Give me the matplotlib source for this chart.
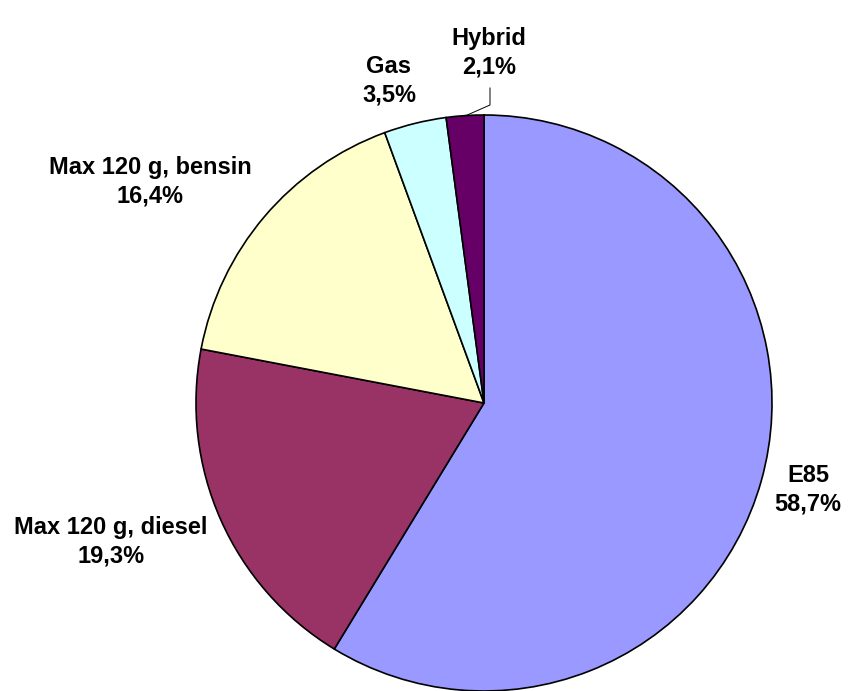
import matplotlib
matplotlib.use("Agg")
import matplotlib.pyplot as plt

# Andel av nya miljöbilar per bränsletyp
labels = ['E85', 'Max 120 g, diesel', 'Max 120 g, bensin', 'Gas', 'Hybrid']
values = [58.7, 19.3, 16.4, 3.5, 2.1]
colors = ['#9999FF', '#993366', '#FFFFCC', '#CCFFFF', '#660066']

W, H = 854, 691
fig = plt.figure(figsize=(W / 100, H / 100), dpi=100)
ax = fig.add_axes([0, 0, 1, 1])

cx, cy, r = 484, H - 403, 288
ax.pie(values, colors=colors, startangle=90, counterclock=False,
       center=(cx, cy), radius=r, frame=True,
       wedgeprops=dict(edgecolor='black', linewidth=1.2))
ax.set_xlim(0, W)
ax.set_ylim(0, H)
ax.set_aspect('equal')
ax.axis('off')

# label positions (pixels, top-left origin)
label_pos = [(808, 490), (111, 542), (150, 182), (389, 81), (489, 53)]
for lab, v, (x, y) in zip(labels, values, label_pos):
    txt = lab + '\n' + ('%.1f%%' % v).replace('.', ',')
    ax.text(x, H - y, txt, ha='center', va='center', fontsize=17,
            fontweight='bold', family='Liberation Sans', linespacing=1.3)

# leader line for Hybrid
ax.plot([490, 490, 465], [H - 88, H - 105, H - 116], color='black', lw=0.7)

fig.savefig('out.png', dpi=100)
